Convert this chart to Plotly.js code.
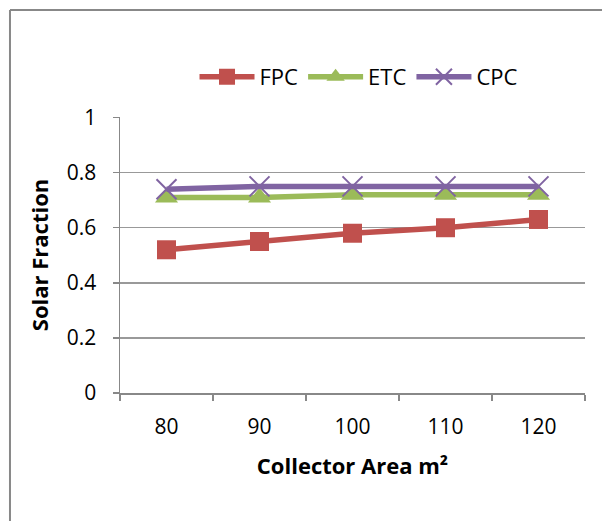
<!DOCTYPE html>
<html>
<head>
<meta charset="utf-8">
<script src="https://cdn.plot.ly/plotly-3.0.1.min.js"></script>
<style>
html,body{margin:0;padding:0;background:#fff;}
#chart{width:602px;height:521px;}
</style>
</head>
<body>
<div id="chart"></div>
<script>
const categories = ["80", "90", "100", "110", "120"];
const fpc = [0.52, 0.55, 0.58, 0.60, 0.63];
const etc = [0.71, 0.71, 0.72, 0.72, 0.72];
const cpc = [0.74, 0.75, 0.75, 0.75, 0.75];
const yTicks = [0, 0.2, 0.4, 0.6, 0.8, 1];
const yTickText = ["0", "0.2", "0.4", "0.6", "0.8", "1"];

const traces = [
  {x: categories, y: fpc, name: "FPC", type: "scatter", mode: "lines+markers",
   line: {color: "#C0504D", width: 5.5},
   marker: {symbol: "square", size: 19, color: "#C0504D"}},
  {x: categories, y: etc, name: "ETC", type: "scatter", mode: "lines+markers",
   line: {color: "#9BBB59", width: 5.5},
   marker: {symbol: "triangle-up", size: 20, color: "#9BBB59"}},
  {x: categories, y: cpc, name: "CPC", type: "scatter", mode: "lines+markers",
   line: {color: "#8064A2", width: 5.5},
   marker: {symbol: "x-thin-open", size: 20, color: "#8064A2", line: {color: "#8064A2", width: 2}}}
];

const layout = {
  width: 602, height: 521,
  margin: {l: 120, r: 17, t: 117, b: 128},
  paper_bgcolor: "#fff", plot_bgcolor: "#fff",
  font: {family: "Open Sans, Liberation Sans, sans-serif", size: 21, color: "#000"},
  showlegend: true,
  legend: {orientation: "h", x: 0.514, xanchor: "center", y: 1.145, yanchor: "middle",
           font: {size: 22, color: "#000"}, itemwidth: 55, tracegroupgap: 0},
  xaxis: {
    type: "category", range: [-0.5, 4.5],
    showline: true, linecolor: "#888", linewidth: 1.5,
    ticks: "outside", tickson: "boundaries", ticklen: 6, tickcolor: "#888", tickwidth: 1.5,
    showgrid: false, zeroline: false, ticklabelstandoff: 14,
    tickfont: {size: 21, color: "#000"},
    title: {text: "<b>Collector Area m²</b>", font: {size: 22, color: "#000"}, standoff: 20}
  },
  yaxis: {
    range: [0, 1.002], tickvals: yTicks, ticktext: yTickText,
    showline: true, linecolor: "#888", linewidth: 1.5,
    ticks: "outside", ticklen: 6, tickcolor: "#888", tickwidth: 1.5,
    showgrid: true, gridcolor: "#999", gridwidth: 1.5, zeroline: false, ticklabelstandoff: 12,
    tickfont: {size: 21, color: "#000"},
    title: {text: "<b>Solar Fraction</b>", font: {size: 22, color: "#000"}, standoff: 12}
  },
  shapes: [
    {type: "line", xref: "paper", yref: "paper", x0: -0.2366, x1: -0.2366, y0: 1.3877, y1: -0.6,
     line: {color: "#888", width: 2}},
    {type: "line", xref: "paper", yref: "paper", x0: -0.2366, x1: 1.1, y0: 1.3877, y1: 1.3877,
     line: {color: "#888", width: 2}}
  ]
};

Plotly.newPlot("chart", traces, layout, {displayModeBar: false, staticPlot: true});
</script>
</body>
</html>
